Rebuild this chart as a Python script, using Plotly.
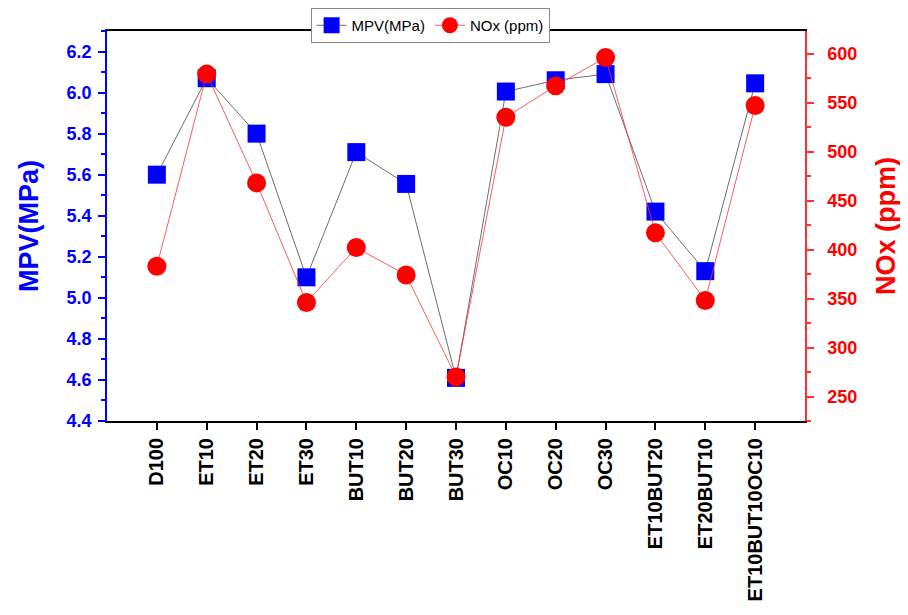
import plotly.graph_objects as go

categories = ["D100", "ET10", "ET20", "ET30", "BUT10", "BUT20", "BUT30",
              "OC10", "OC20", "OC30", "ET10BUT20", "ET20BUT10", "ET10BUT10OC10"]
mpv = [5.60, 6.07, 5.80, 5.10, 5.71, 5.555, 4.61, 6.005, 6.06, 6.09, 5.42, 5.13, 6.045]
nox = [383, 579, 468, 346, 402, 374, 270, 535, 567, 596, 417, 348, 547]

xpos = list(range(len(categories)))
FONT = "Liberation Sans, Arial, sans-serif"

fig = go.Figure()
fig.add_trace(go.Scatter(
    x=xpos, y=mpv, name="MPV(MPa)", mode="lines+markers",
    line=dict(color="#6e6e6e", width=1),
    marker=dict(symbol="square", size=18, color="#0000ff", line=dict(width=0)),
    yaxis="y"))
fig.add_trace(go.Scatter(
    x=xpos, y=nox, name="NOx (ppm)", mode="lines+markers",
    line=dict(color="#ff3030", width=0.8),
    marker=dict(symbol="circle", size=19, color="#ff0000", line=dict(width=0)),
    yaxis="y2"))

# page has an 8px body margin, so the figure is 900x607 and offset accordingly
fig.update_layout(
    width=900, height=607,
    margin=dict(l=99, r=103, t=23, b=194, autoexpand=False),
    paper_bgcolor="white", plot_bgcolor="white",
    font=dict(family=FONT),
    showlegend=True,
    legend=dict(orientation="h", xref="container", yref="container",
                x=0.469, xanchor="center", y=1.0, yanchor="top",
                bordercolor="#888888", borderwidth=1, bgcolor="white",
                font=dict(size=15, color="black", family=FONT),
                itemwidth=30, tracegroupgap=0),
    xaxis=dict(
        range=[-1, 13], tickmode="array", tickvals=xpos, ticktext=categories,
        tickangle=-90, ticks="outside", ticklen=7, tickwidth=2, tickcolor="black",
        showline=True, linecolor="black", linewidth=2, mirror=True,
        showgrid=False, zeroline=False,
        tickfont=dict(size=20, color="black", family=FONT, weight="bold")),
    yaxis=dict(
        range=[4.4, 6.3], tickmode="linear", tick0=4.4, dtick=0.2, tickformat=".1f",
        ticks="outside", ticklen=7, tickwidth=1.5, tickcolor="#0000ff",
        ticklabelstandoff=3,
        minor=dict(ticks="outside", ticklen=4, tickcolor="#0000ff", dtick=0.1, tick0=4.4, showgrid=False),
        showline=True, linecolor="#0000ff", linewidth=1.5,
        showgrid=False, zeroline=False,
        tickfont=dict(size=18, color="#0000ff", family=FONT, weight="bold"),
        title=dict(text="MPV(MPa)", standoff=20,
                   font=dict(size=27, color="#0000ff", family=FONT, weight="bold"))),
    yaxis2=dict(
        overlaying="y", side="right", anchor="x",
        range=[225, 623], tickmode="linear", tick0=250, dtick=50,
        ticks="outside", ticklen=7, tickwidth=1.5, tickcolor="#ff3030",
        ticklabelstandoff=10,
        minor=dict(ticks="outside", ticklen=4, tickcolor="#ff3030", dtick=25, tick0=250, showgrid=False),
        showline=True, linecolor="#ff3030", linewidth=1.5,
        showgrid=False, zeroline=False,
        tickfont=dict(size=18, color="#ff0000", family=FONT, weight="bold"),
        title=dict(text="NOx (ppm)", standoff=20,
                   font=dict(size=27, color="#ff0000", family=FONT, weight="bold"))),
)

fig.write_html("out.html")
